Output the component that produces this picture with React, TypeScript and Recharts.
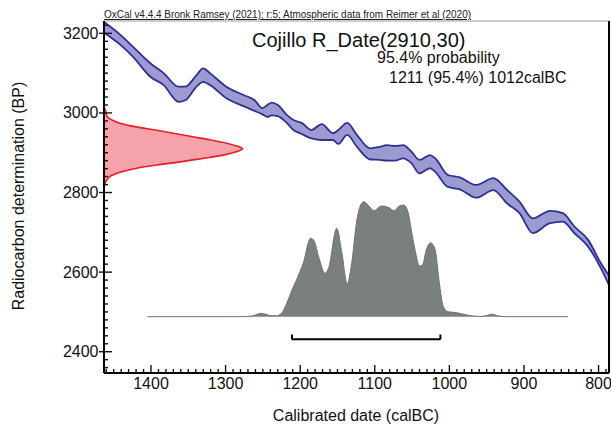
import React from 'react';
import { ComposedChart, Area, XAxis, YAxis, ReferenceLine } from 'recharts';

const W = 611;
const H = 424;
const FONT = '"Liberation Sans", Arial, sans-serif';

// ---- Calibration curve band (cal BC, upper / lower BP) ----
const curveYears = [1462, 1441, 1424, 1401, 1383, 1363, 1354, 1339, 1330, 1321, 1299, 1276, 1261, 1251, 1244, 1238, 1230, 1218, 1209, 1198, 1185, 1171, 1156, 1149, 1137, 1124, 1106, 1093, 1084, 1073, 1062, 1051, 1040, 1026, 1019, 1002, 986, 964, 941, 923, 906, 888, 865, 848, 832, 814, 798, 785];
const curveHigh = [3227, 3196, 3166, 3125, 3100, 3066, 3066, 3095, 3112, 3100, 3066, 3045, 3032, 3012, 3020, 3026, 3020, 2995, 2982, 2975, 2957, 2972, 2949, 2957, 2975, 2945, 2911, 2915, 2919, 2917, 2919, 2903, 2882, 2894, 2886, 2844, 2838, 2819, 2836, 2807, 2777, 2735, 2754, 2748, 2714, 2681, 2626, 2588];
const curveLow = [3200, 3171, 3141, 3091, 3070, 3028, 3032, 3066, 3078, 3070, 3037, 3017, 3005, 2997, 2990, 2994, 2992, 2975, 2957, 2947, 2936, 2932, 2932, 2922, 2945, 2915, 2883, 2882, 2880, 2880, 2886, 2874, 2848, 2861, 2852, 2814, 2808, 2787, 2806, 2773, 2748, 2698, 2723, 2727, 2697, 2664, 2614, 2563];

// ---- Radiocarbon measurement likelihood R_Date(2910,30) (BP, relative density) ----
const measBP = [3012, 3005, 2998, 2990, 2982, 2974, 2965, 2957, 2949, 2940, 2932, 2924, 2916, 2910, 2903, 2894, 2885, 2877, 2869, 2861, 2854, 2848, 2842, 2836, 2829, 2823, 2815, 2808];
const measDensity = [0.004, 0.012, 0.016, 0.025, 0.06, 0.115, 0.23, 0.37, 0.5, 0.64, 0.77, 0.885, 0.965, 1.0, 0.96, 0.86, 0.7, 0.55, 0.38, 0.236, 0.15, 0.09, 0.05, 0.03, 0.015, 0.007, 0.002, 0];

// ---- Calibrated posterior (cal BC, relative probability) ----
const postYears = [1405, 1300, 1281, 1265, 1252, 1240, 1232, 1225, 1218, 1211, 1205, 1196, 1186, 1182, 1174, 1167, 1162, 1151, 1144, 1137, 1131, 1124, 1119, 1115, 1109, 1101, 1091, 1082, 1074, 1067, 1061, 1055, 1051, 1046, 1040, 1036, 1031, 1025, 1019, 1014, 1008, 1002, 990, 977, 959, 950, 943, 935, 925, 841];
const postProb = [0, 0, 0, 0.006, 0.029, 0.01, 0.008, 0.03, 0.117, 0.232, 0.319, 0.464, 0.682, 0.667, 0.493, 0.377, 0.421, 0.769, 0.551, 0.284, 0.464, 0.841, 0.971, 1.0, 0.971, 0.922, 0.963, 0.951, 0.922, 0.963, 0.971, 0.899, 0.754, 0.58, 0.441, 0.45, 0.58, 0.643, 0.58, 0.319, 0.087, 0.043, 0.035, 0.015, 0.002, 0.01, 0.022, 0.008, 0, 0];

// 95.4% range (cal BC)
const range95 = [1211, 1012];

// ---- Axis labels ----
const xLabels = [1400, 1300, 1200, 1100, 1000, 900, 800];
const yLabels = [2400, 2600, 2800, 3000, 3200];

const X_DOMAIN: [number, number] = [786, 1463];
const Y_DOMAIN: [number, number] = [2346.5, 3231];
const POST_DOMAIN: [number, number] = [-0.4896, 2.5713];
const DENS_DOMAIN: [number, number] = [0, 3.641];

const xTicks: number[] = [];
for (let v = 790; v <= 1460; v += 10) xTicks.push(v);
const yTicks: number[] = [];
for (let v = 2360; v <= 3220; v += 20) yTicks.push(v);

const curveData = curveYears.map((year, i) => ({ year, low: curveLow[i], high: curveHigh[i] }));
const measData = measBP.map((bp, i) => ({ bp, d: measDensity[i] }));
const postData = postYears.map((year, i) => ({ year, p: postProb[i] }));

const bracketY = 2431;
const bracketTick = 2443;

const XTick = (props: any) => {
  const { x, y, payload } = props;
  const v = payload.value;
  const major = xLabels.includes(v);
  return (
    <g>
      <line x1={x} x2={x} y1={y} y2={y - (major ? 8 : 4)} stroke="#111" strokeWidth={1.4} />
      {major && (
        <text x={x} y={y + 16} textAnchor="middle" fontSize={16} fontFamily={FONT} fill="#111">
          {v}
        </text>
      )}
    </g>
  );
};

const YTick = (props: any) => {
  const { x, y, payload } = props;
  const v = payload.value;
  const major = yLabels.includes(v);
  return (
    <g>
      <line x1={major ? x - 5 : x} x2={x + (major ? 8 : 4)} y1={y} y2={y} stroke="#111" strokeWidth={1.4} />
      {major && (
        <text x={x - 5.5} y={y + 5.5} textAnchor="end" fontSize={16} fontFamily={FONT} fill="#111">
          {v}
        </text>
      )}
    </g>
  );
};

export default function App() {
  return (
    <div style={{ position: 'absolute', left: 0, top: 0, width: W, height: H, background: '#fff' }}>
      {/* measurement likelihood, drawn sideways on the BP axis */}
      <div style={{ position: 'absolute', left: 0, top: 0 }}>
        <ComposedChart
          width={W}
          height={H}
          layout="vertical"
          data={measData}
          margin={{ top: 21, right: 2, bottom: 51, left: 104 }}
        >
          <XAxis type="number" domain={DENS_DOMAIN} hide allowDataOverflow />
          <YAxis type="number" dataKey="bp" domain={Y_DOMAIN} hide allowDataOverflow reversed />
          <Area
            type="monotone"
            dataKey="d"
            fill="#f5a3aa"
            fillOpacity={1}
            stroke="#ec1c24"
            strokeWidth={1.6}
            isAnimationActive={false}
            dot={false}
            activeDot={false}
          />
        </ComposedChart>
      </div>

      {/* main chart */}
      <div style={{ position: 'absolute', left: 0, top: 0 }}>
        <ComposedChart width={W} height={H} margin={{ top: 21, right: 2, bottom: 0, left: 0 }}>
          <XAxis
            type="number"
            dataKey="year"
            domain={X_DOMAIN}
            reversed
            allowDataOverflow
            ticks={xTicks}
            interval={0}
            tick={<XTick />}
            tickLine={false}
            tickSize={0}
            tickMargin={0}
            height={51}
            axisLine={{ stroke: '#000', strokeWidth: 2 }}
          />
          <YAxis
            type="number"
            domain={Y_DOMAIN}
            allowDataOverflow
            ticks={yTicks}
            interval={0}
            tick={<YTick />}
            tickLine={false}
            tickSize={0}
            tickMargin={0}
            width={104}
            axisLine={{ stroke: '#000', strokeWidth: 2 }}
          />
          <YAxis yAxisId="post" type="number" domain={POST_DOMAIN} hide allowDataOverflow orientation="right" />
          <ReferenceLine y={Y_DOMAIN[1]} stroke="#999" strokeWidth={1} />
          <ReferenceLine x={X_DOMAIN[0]} stroke="#000" strokeWidth={2} />
          <Area
            data={curveData}
            type="monotone"
            dataKey={(d: any) => [d.low, d.high]}
            fill="#9b9bd1"
            fillOpacity={1}
            stroke="#2e3192"
            strokeWidth={1.8}
            isAnimationActive={false}
            dot={false}
            activeDot={false}
          />
          <Area
            data={postData}
            yAxisId="post"
            type="monotone"
            dataKey="p"
            baseValue={0}
            fill="#7b7f7f"
            fillOpacity={1}
            stroke="#6f7373"
            strokeWidth={1}
            isAnimationActive={false}
            dot={false}
            activeDot={false}
          />
          <ReferenceLine
            segment={[{ x: range95[0], y: bracketY }, { x: range95[1], y: bracketY }]}
            stroke="#000"
            strokeWidth={2}
          />
          <ReferenceLine
            segment={[{ x: range95[0], y: bracketY }, { x: range95[0], y: bracketTick }]}
            stroke="#000"
            strokeWidth={2}
          />
          <ReferenceLine
            segment={[{ x: range95[1], y: bracketY }, { x: range95[1], y: bracketTick }]}
            stroke="#000"
            strokeWidth={2}
          />
        </ComposedChart>
      </div>

      {/* text */}
      <svg width={W} height={H} style={{ position: 'absolute', left: 0, top: 0, pointerEvents: 'none' }}>
        <text x={104} y={18} fontSize={10} fontFamily={FONT} fill="#222" textLength={367} lengthAdjust="spacingAndGlyphs" textDecoration="underline">
          OxCal v4.4.4 Bronk Ramsey (2021); r:5; Atmospheric data from Reimer et al (2020)
        </text>
        <text x={252} y={47} fontSize={20} fontFamily={FONT} fill="#111">
          Cojillo R_Date(2910,30)
        </text>
        <text x={377} y={63} fontSize={16} fontFamily={FONT} fill="#111">
          95.4% probability
        </text>
        <text x={389} y={83} fontSize={16} fontFamily={FONT} fill="#111">
          1211 (95.4%) 1012calBC
        </text>
        <text
          x={18}
          y={196}
          transform="rotate(-90 18 196)"
          textAnchor="middle"
          dominantBaseline="central"
          fontSize={16}
          fontFamily={FONT}
          fill="#111"
        >
          Radiocarbon determination (BP)
        </text>
        <text x={356} y={421} textAnchor="middle" fontSize={16} fontFamily={FONT} fill="#111">
          Calibrated date (calBC)
        </text>
      </svg>
    </div>
  );
}
